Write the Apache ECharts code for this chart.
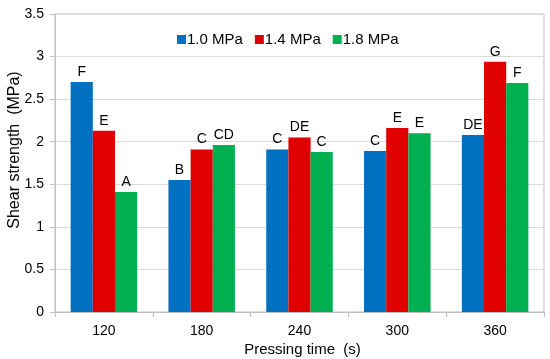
<!DOCTYPE html>
<html><head><meta charset="utf-8">
<script src="https://cdn.jsdelivr.net/npm/echarts@6/dist/echarts.min.js"></script>
<style>html,body{margin:0;padding:0;background:#fff}#c{width:550px;height:359px}</style>
</head><body><div id="c"></div>
<script>
const categories = ['120','180','240','300','360'];
const seriesNames = ['1.0 MPa','1.4 MPa','1.8 MPa'];
const v10 = [2.70, 1.55, 1.91, 1.89, 2.08];
const v14 = [2.13, 1.91, 2.05, 2.16, 2.94];
const v18 = [1.41, 1.96, 1.88, 2.10, 2.69];
const l10 = ['F','B','C','C','DE'];
const l14 = ['E','C','DE','E','G'];
const l18 = ['A','CD','C','E','F'];
const yTicks = [0,0.5,1,1.5,2,2.5,3,3.5];
const colors = ['#0070C0','#E00000','#00B050'];
const vals = [v10,v14,v18];
const labs = [l10,l14,l18];
const font = 'Arial, "Liberation Sans", sans-serif';
const chart = echarts.init(document.getElementById('c'));
chart.setOption({
  animation:false,
  textStyle:{fontFamily:font},
  legend:{top:27,left:172,itemWidth:9,itemHeight:9,itemGap:12,icon:'rect',
    textStyle:{fontSize:15,color:'#000',fontFamily:font,padding:[0,0,0,-4]},data:seriesNames},
  grid:{left:55,right:6,top:14,bottom:47,show:true,borderColor:'#bfbfbf',borderWidth:1,
    outerBoundsMode:'none',containLabel:false},
  xAxis:{type:'category',data:categories,
    name:'Pressing time  (s)',nameLocation:'middle',nameGap:30,nameMoveOverlap:false,
    nameTextStyle:{fontSize:15,color:'#000',fontFamily:font,padding:[0,0,0,6]},
    axisLine:{lineStyle:{color:'#bfbfbf'}},
    axisTick:{show:true,length:5,lineStyle:{color:'#bfbfbf'}},
    axisLabel:{fontSize:14,color:'#000',margin:12,fontFamily:font}},
  yAxis:{type:'value',min:0,max:3.5,interval:0.5,
    name:'Shear strength  (MPa)',nameLocation:'middle',nameGap:32,nameMoveOverlap:false,
    nameTextStyle:{fontSize:16,color:'#000',fontFamily:font,padding:[0,0,0,26]},
    axisLine:{show:true,lineStyle:{color:'#bfbfbf'}},
    axisTick:{show:true,length:5,lineStyle:{color:'#bfbfbf'}},
    splitLine:{lineStyle:{color:'#d9d9d9'}},
    axisLabel:{fontSize:14,color:'#000',margin:11,fontFamily:font,
      formatter:v=>yTicks.includes(v)?String(v):''}},
  series:seriesNames.map((n,i)=>({
    name:n,type:'bar',barGap:'0%',barCategoryGap:'32%',
    itemStyle:{color:colors[i]},
    data:vals[i],
    label:{show:true,position:'top',distance:3,fontSize:14,color:'#000',fontFamily:font,
      formatter:p=>labs[i][p.dataIndex]}
  }))
});
</script></body></html>
